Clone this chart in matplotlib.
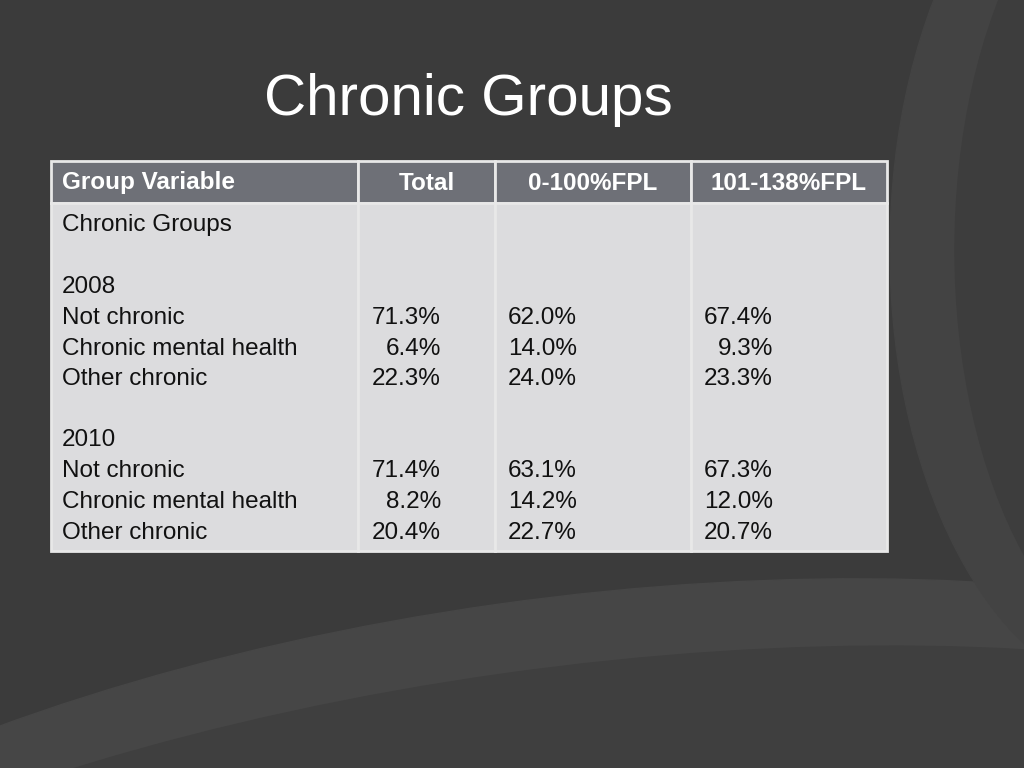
import matplotlib.pyplot as plt
from matplotlib.patches import Rectangle, Ellipse

title = "Chronic Groups"
headers = ["Group Variable", "Total", "0-100%FPL", "101-138%FPL"]
row_labels = ["Chronic Groups", "", "2008", "Not chronic", "Chronic mental health", "Other chronic",
              "", "2010", "Not chronic", "Chronic mental health", "Other chronic"]
total = ["", "", "", "71.3%", "6.4%", "22.3%", "", "", "71.4%", "8.2%", "20.4%"]
fpl_0_100 = ["", "", "", "62.0%", "14.0%", "24.0%", "", "", "63.1%", "14.2%", "22.7%"]
fpl_101_138 = ["", "", "", "67.4%", "9.3%", "23.3%", "", "", "67.3%", "12.0%", "20.7%"]

fig = plt.figure(figsize=(10.24, 7.68), dpi=100)
fig.patch.set_facecolor("#3b3b3b")
ax = fig.add_axes([0, 0, 1, 1])
ax.set_xlim(0, 1024)
ax.set_ylim(768, 0)
ax.axis("off")

# background swooshes
ax.add_patch(Ellipse((560, 1050), 2200, 900, angle=-8, color="#464646", zorder=0))
ax.add_patch(Ellipse((560, 1080), 2200, 820, angle=-8, color="#3f3f3f", zorder=0))
ax.add_patch(Ellipse((1150, 250), 520, 900, color="#434343", zorder=0))
ax.add_patch(Ellipse((1190, 250), 470, 860, color="#3d3d3d", zorder=0))

ax.text(468, 100, title, color="white", fontsize=42, ha="center", va="center",
        family="Liberation Sans")

xs = [51, 358, 495, 691, 887]
top, head_bot, bot = 161, 203, 551
for i in range(4):
    ax.add_patch(Rectangle((xs[i], top), xs[i+1]-xs[i], head_bot-top,
                           facecolor="#6e7077", edgecolor="#e8e8e8", lw=2, zorder=1))
    ax.add_patch(Rectangle((xs[i], head_bot), xs[i+1]-xs[i], bot-head_bot,
                           facecolor="#dcdcde", edgecolor="#e8e8e8", lw=2, zorder=1))

font = dict(fontsize=17.5, family="Liberation Sans", va="center", zorder=2)
ax.text(62, 183, headers[0], color="white", weight="bold", ha="left", **font)
for i in range(1, 4):
    ax.text((xs[i]+xs[i+1])/2, 183, headers[i], color="white", weight="bold", ha="center", **font)

ys = [225, 256, 287, 318, 349, 379, 410, 440, 471, 502, 533]
for y, lab, a, b, c in zip(ys, row_labels, total, fpl_0_100, fpl_101_138):
    ax.text(62, y, lab, color="#111111", ha="left", **font)
    ax.text(441, y, a, color="#111111", ha="right", **font)
    ax.text(577, y, b, color="#111111", ha="right", **font)
    ax.text(773, y, c, color="#111111", ha="right", **font)

fig.savefig("out.png", dpi=100, facecolor=fig.get_facecolor())
